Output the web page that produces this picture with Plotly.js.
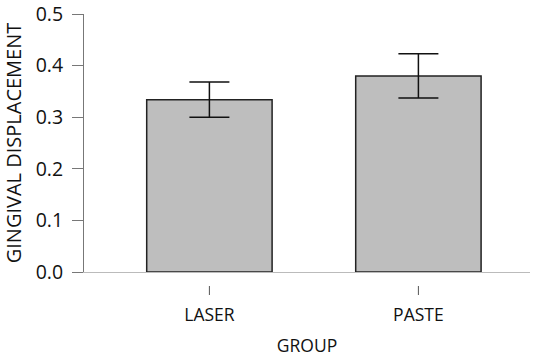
<!DOCTYPE html>
<html>
<head>
<meta charset="utf-8">
<script src="https://cdn.plot.ly/plotly-3.0.1.min.js"></script>
<style>html,body{margin:0;padding:0;background:#fff;}#chart{width:550px;height:357px;}</style>
</head>
<body>
<div id="chart"></div>
<script>
const categories = ["LASER", "PASTE"];
const means = [0.334, 0.380];
const errors = [0.034, 0.043];
const yTicks = [0, 0.1, 0.2, 0.3, 0.4, 0.5];
const yTickLabels = ["0.0", "0.1", "0.2", "0.3", "0.4", "0.5"];

const font = "Open Sans, Noto Sans, sans-serif";

const trace = {
  type: "bar",
  x: categories,
  y: means,
  width: 0.6,
  marker: {color: "#bebebe", line: {color: "#222", width: 1.5}},
  error_y: {type: "data", array: errors, visible: true, color: "#111", thickness: 1.5, width: 20},
  hoverinfo: "none"
};

const tickShapes = categories.map(c => ({
  type: "line", xref: "x", yref: "paper", ysizemode: "pixel", yanchor: 0,
  x0: c, x1: c, y0: -14, y1: -23,
  line: {color: "#555", width: 1}
}));

const layout = {
  width: 550, height: 357,
  margin: {l: 84, r: 20, t: 14, b: 85},
  paper_bgcolor: "#fff", plot_bgcolor: "#fff",
  font: {family: font, size: 17, color: "#111"},
  showlegend: false,
  xaxis: {
    type: "category",
    range: [-0.6, 1.534],
    showline: true, linecolor: "#bbb", linewidth: 1,
    ticks: "", showgrid: false, zeroline: false,
    tickfont: {family: font, size: 17.5, color: "#111"},
    ticklabelstandoff: 27,
    title: {text: "GROUP", font: {family: font, size: 17.5, color: "#111"}, standoff: 16}
  },
  yaxis: {
    range: [0, 0.5],
    tickvals: yTicks, ticktext: yTickLabels,
    ticklabeloverflow: "allow",
    showline: true, linecolor: "#777", linewidth: 1,
    ticks: "outside", ticklen: 11, tickcolor: "#777", tickwidth: 1,
    showgrid: false, zeroline: false,
    tickfont: {family: font, size: 19.5, color: "#111"},
    ticklabelstandoff: 5,
    title: {text: "GINGIVAL DISPLACEMENT", font: {family: font, size: 20, color: "#111"}, standoff: 8}
  },
  shapes: tickShapes
};

Plotly.newPlot("chart", [trace], layout, {displayModeBar: false, staticPlot: true});
</script>
</body>
</html>
